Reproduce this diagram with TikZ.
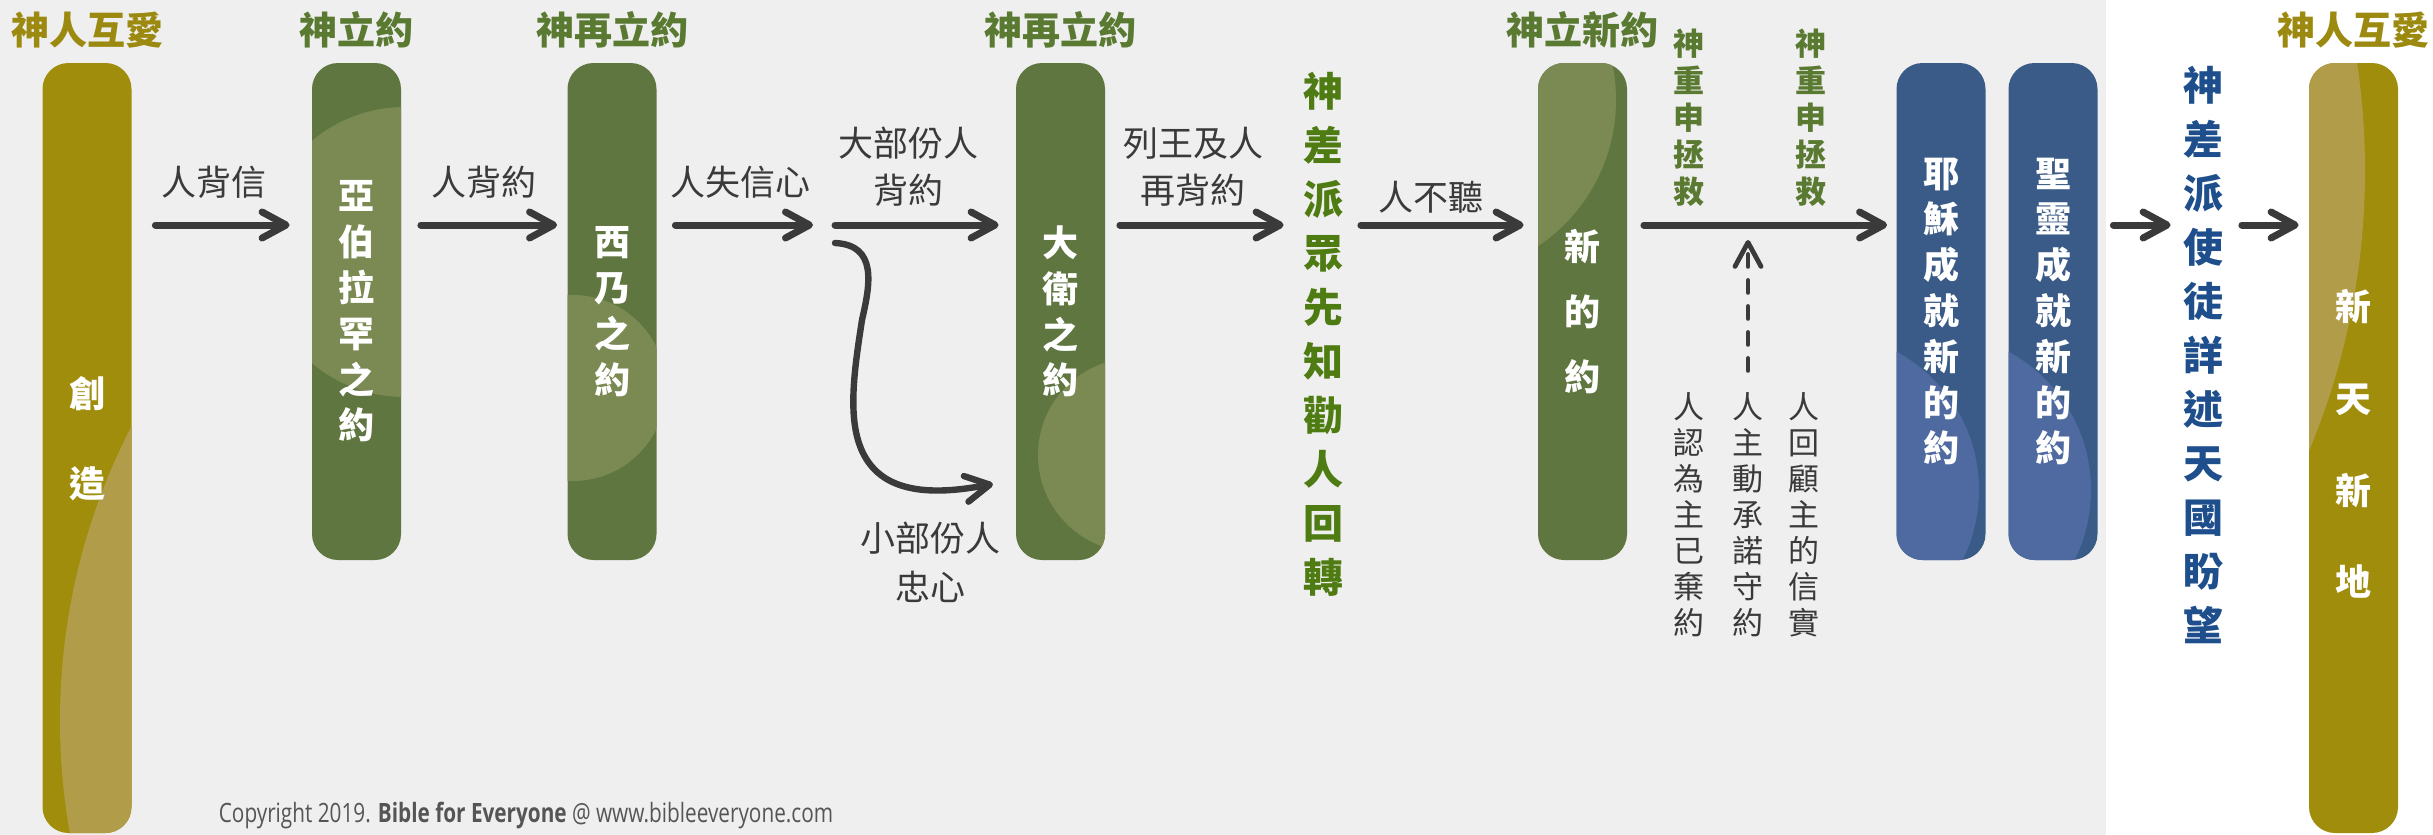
\documentclass[tikz,border=0pt]{standalone}
\usepackage{fontspec}
\setmainfont{Noto Sans CJK TC}
\newfontfamily\copyfont[FakeStretch=0.78]{Open Sans}
\usetikzlibrary{arrows.meta,positioning,calc}
\definecolor{bggray}{HTML}{EFEFEF}
\definecolor{gold}{HTML}{A08D0C}
\definecolor{goldlt}{HTML}{B19C4A}
\definecolor{leaf}{HTML}{5F7640}
\definecolor{leaflt}{HTML}{7A8A52}
\definecolor{navy}{HTML}{3A5B87}
\definecolor{navylt}{HTML}{4F6AA0}
\definecolor{headgreen}{HTML}{5A7A32}
\definecolor{headgold}{HTML}{9C8A10}
\definecolor{prophet}{HTML}{4E7B12}
\definecolor{apostle}{HTML}{1E4F8C}
\definecolor{ink}{HTML}{3A3A3A}
\definecolor{copygray}{HTML}{555555}

\begin{document}
\begin{tikzpicture}[x=0.5pt, y=-0.5pt, >={Straight Barb[length=12pt,width=13pt,round]},
  col/.style={rounded corners=13pt, minimum width=44.5pt, minimum height=248.5pt, inner sep=0pt, text=white, align=center, font=\bfseries\fontsize{18}{22.9}\selectfont},
  tall/.style={minimum height=385pt},
  lit/.style n args={3}{path picture={\fill[#1] ($(path picture bounding box.center)+(#2)$) circle[radius=#3];}},
  head/.style={inner sep=0pt, font=\bfseries\fontsize{19}{19}\selectfont},
  lbl/.style={inner sep=0pt, text=ink, align=center, font=\fontsize{17.5}{23.5}\selectfont},
  vbig/.style={inner sep=0pt, align=center, font=\bfseries\fontsize{20}{27}\selectfont},
  vsmall/.style={inner sep=0pt, align=center, font=\fontsize{15.5}{18}\selectfont},
  flow/.style={line width=3.5pt, line cap=round, ink}]
  % background
  \fill[bggray] (0,0) rectangle (2106,835);
  \fill[white] (2106,0) rectangle (2433,835);
  \useasboundingbox (0,0) rectangle (2433,835);

  % the covenants
  \node[col, tall, fill=gold, text depth=11pt, lit={goldlt}{613,272.5}{640}] (c1) at (87,448) {創\\[22pt]造};
  \node[col, fill=leaf, lit={leaflt}{48.5,-59.5}{145}] (c2) at (356.5,311.5) {亞\\伯\\拉\\罕\\之\\約};
  \node[col, fill=leaf, lit={leaflt}{-39,76.5}{93}] (c3) at (612,311.5) {西\\乃\\之\\約};
  \node[col, fill=leaf, lit={leaflt}{74.5,143.5}{97}] (c4) at (1060.5,311.5) {大\\衛\\之\\約};
  \node[col, fill=leaf, lit={leaflt}{-142.5,-211.5}{176}] (c5) at (1582.5,311.5) {新\\[9.6pt]的\\[9.6pt]約};
  \node[col, fill=navy, lit={navylt}{-119,178.5}{157}] (c6) at (1941,311.5) {耶\\穌\\成\\就\\新\\的\\約};
  \node[col, fill=navy, lit={navylt}{-119,178.5}{157}] (c7) at (2053,311.5) {聖\\靈\\成\\就\\新\\的\\約};
  \node[col, tall, fill=gold, text depth=5.4pt, lit={goldlt}{-716.5,-277.5}{728}] (c8) at (2353.5,448) {新\\[23pt]天\\[23pt]新\\[23pt]地};

  % headers
  \coordinate (top) at (0,30);
  \node[head, text=headgold] (h1) at (c1 |- top) {神人互愛};
  \node[head, text=headgreen] (h2) at (c2 |- top) {神立約};
  \node[head, text=headgreen] (h3) at (c3 |- top) {神再立約};
  \node[head, text=headgreen] (h4) at (c4 |- top) {神再立約};
  \node[head, text=headgreen] (h5) at (c5 |- top) {神立新約};
  \node[head, text=headgold] (h8) at (c8 |- top) {神人互愛};

  % messengers
  \node[vbig, text=prophet] (prophets) at (1323,334) {神\\差\\派\\眾\\先\\知\\勸\\人\\回\\轉};
  \node[vbig, text=apostle] (apostles) at (2203,355) {神\\差\\派\\使\\徒\\詳\\述\\天\\國\\盼\\望};
  \node[vsmall, text=headgreen, font=\bfseries\fontsize{15.5}{18.5}\selectfont] (save1) at (1689,117.5) {神\\重\\申\\拯\\救};
  \node[vsmall, text=headgreen, font=\bfseries\fontsize{15.5}{18.5}\selectfont] (save2) at (1811,117.5) {神\\重\\申\\拯\\救};
  \node[vsmall, text=ink] (p1) at (1689,515) {人\\認\\為\\主\\已\\棄\\約};
  \node[vsmall, text=ink] (p2) at (1748,515) {人\\主\\動\\承\\諾\\守\\約};
  \node[vsmall, text=ink] (p3) at (1804,515) {人\\回\\顧\\主\\的\\信\\實};

  % labels on the arrows
  \node[lbl] (l1) at (214,182) {人背信};
  \node[lbl] (l2) at (484,182) {人背約};
  \node[lbl] (l3) at (740,182) {人失信心};
  \node[lbl] (l4) at (908,166.5) {大部份人\\背約};
  \node[lbl] (l5) at (1193,166.5) {列王及人\\再背約};
  \node[lbl] (l6) at (1431,197) {人不聽};
  \node[lbl, font=\fontsize{17.5}{24.5}\selectfont] (l7) at (930,562.5) {小部份人\\忠心};

  % arrows
  \coordinate (lvl) at (0,225);
  \coordinate (split) at (835,225);
  \coordinate (bend) at (835,243);
  \coordinate (low) at (0,480);
  \path[->, flow]
    (c1.east |- lvl) edge[shorten <=11.75pt, shorten >=11pt] (c2.west |- lvl)
    (c2.east |- lvl) edge[shorten <=9.75pt, shorten >=5pt] (c3.west |- lvl)
    (c3.east |- lvl) edge[shorten <=9.25pt, shorten >=11pt] (split)
    (split) edge[shorten >=8.5pt] (c4.west |- lvl)
    (c4.east |- lvl) edge[shorten <=7.25pt, shorten >=9.5pt] (prophets.west |- lvl)
    (prophets.east |- lvl) edge[shorten <=8.75pt, shorten >=7pt] (c5.west |- lvl)
    (c5.east |- lvl) edge[shorten <=8.25pt, shorten >=4.5pt] (c6.west |- lvl)
    (c7.east |- lvl) edge[shorten <=7.75pt, shorten >=6pt] (apostles.west |- lvl)
    (apostles.east |- lvl) edge[shorten <=9.25pt, shorten >=5pt] (c8.west |- lvl);
  \draw[->, flow, line width=3.2pt, shorten >=11.5pt] (bend) .. controls (878,245) and (870,285) .. (862,320)
    .. controls (852,385) and (842,450) .. (885,478) .. controls (915,497) and (960,490) .. (c4.west |- low);
  \draw[->, flow, line width=2.4pt, dash pattern=on 6pt off 7pt, shorten <=11pt, shorten >=7.5pt] (p2.north) -- (p2 |- lvl);

  \node[inner sep=0pt, text=copygray, font=\copyfont\fontsize{13.3}{14}\selectfont] (copy) at (526,816) {Copyright 2019. \textbf{Bible for Everyone} @ www.bibleeveryone.com};
\end{tikzpicture}
\end{document}
